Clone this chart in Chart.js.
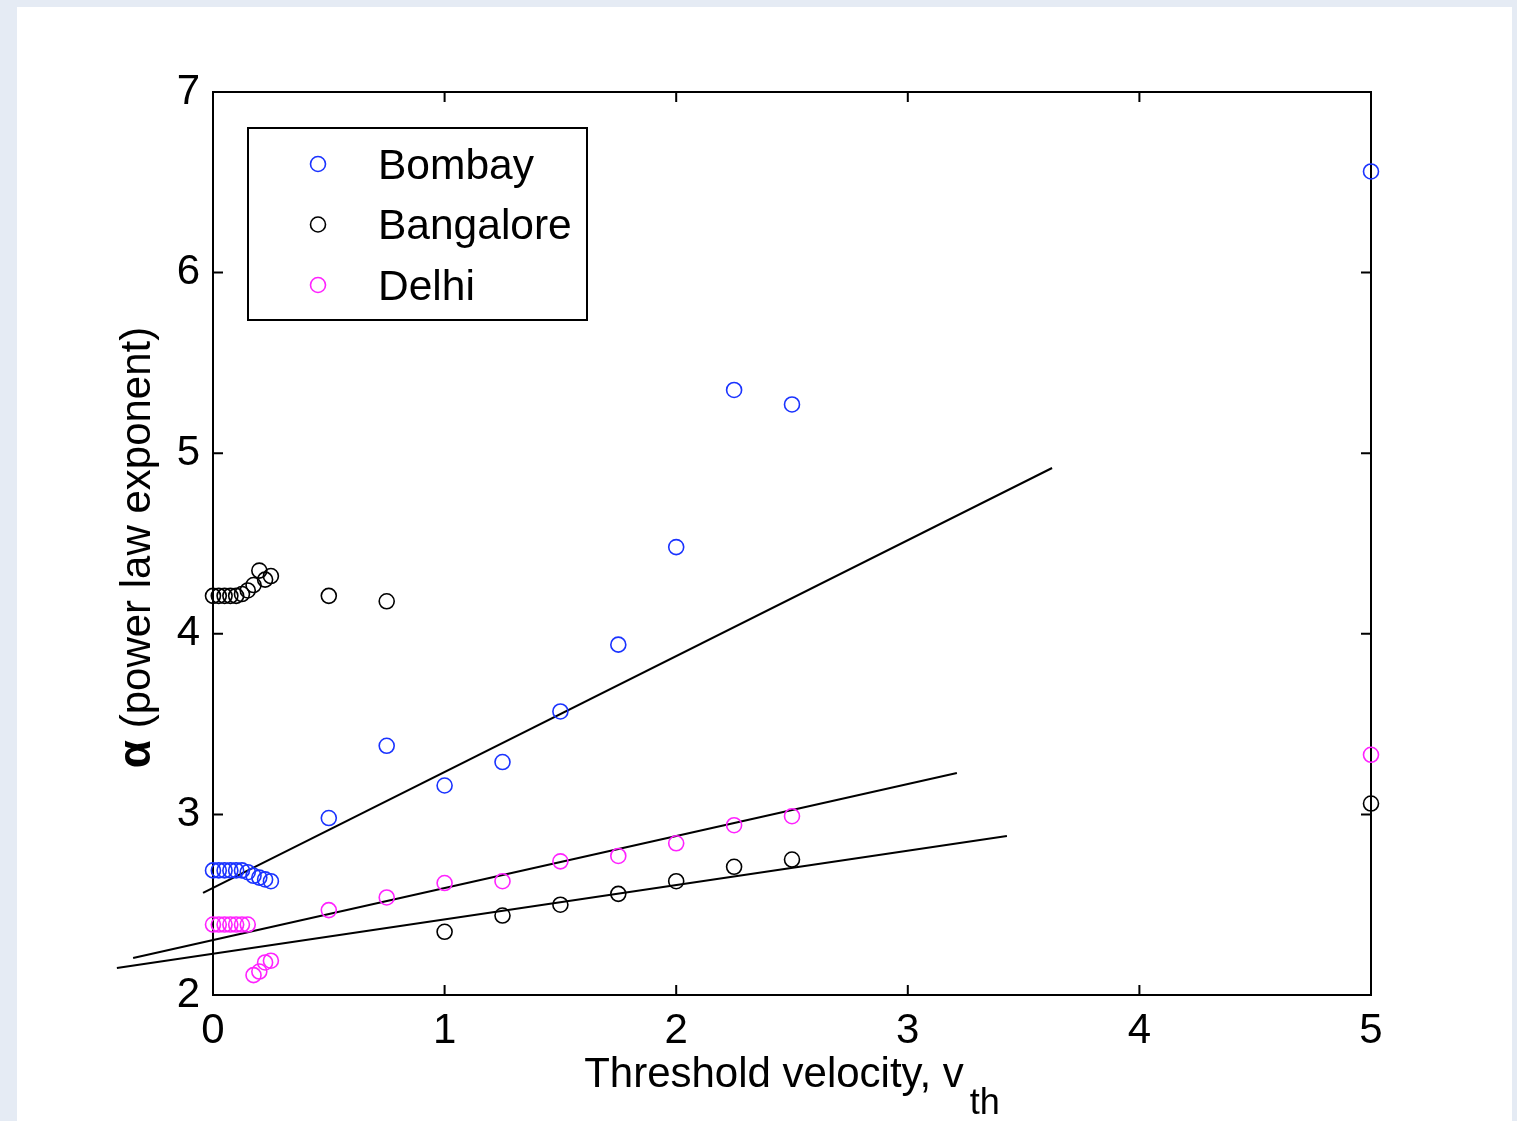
<!DOCTYPE html>
<html>
<head>
<meta charset="utf-8">
<script src="https://cdn.jsdelivr.net/npm/chart.js@4.4.0/dist/chart.umd.min.js"></script>
<style>
html, body { margin: 0; padding: 0; background: #e5ebf4; }
body { width: 1517px; height: 1121px; overflow: hidden; position: relative; }
#panel { position: absolute; left: 17px; top: 7px; width: 1495px; height: 1114px; background: #fff; }
</style>
</head>
<body>
<div id="panel"><canvas id="grafico"></canvas></div>
<script>
// datos
var velocidades = [0, 0.025, 0.05, 0.075, 0.1, 0.125, 0.15, 0.175, 0.2, 0.225, 0.25,
	0.5, 0.75, 1, 1.25, 1.5, 1.75, 2, 2.25, 2.5, 5];
var alfaBombay = [2.69, 2.69, 2.69, 2.69, 2.69, 2.69, 2.68, 2.66, 2.65, 2.64, 2.63,
	2.98, 3.38, 3.16, 3.29, 3.57, 3.94, 4.48, 5.35, 5.27, 6.56];
var alfaBangalore = [4.21, 4.21, 4.21, 4.21, 4.21, 4.22, 4.24, 4.27, 4.35, 4.30, 4.32,
	4.21, 4.18, 2.35, 2.44, 2.50, 2.56, 2.63, 2.71, 2.75, 3.06];
var alfaDelhi = [2.39, 2.39, 2.39, 2.39, 2.39, 2.39, 2.39, 2.11, 2.13, 2.18, 2.19,
	2.47, 2.54, 2.62, 2.63, 2.74, 2.77, 2.84, 2.94, 2.99, 3.33];

// rectas de ajuste (extremos)
var ajusteBombayX = [-0.043, 3.623];
var ajusteBombayY = [2.565, 4.918];
var ajusteDelhiX = [-0.345, 3.212];
var ajusteDelhiY = [2.205, 3.229];
var ajusteBangaloreX = [-0.415, 3.428];
var ajusteBangaloreY = [2.15, 2.88];

var ciudades = ['Bombay', 'Bangalore', 'Delhi'];
var colores = ['#1a33ff', '#000000', '#ff22ff'];
var ticksX = [0, 1, 2, 3, 4, 5];
var ticksY = [2, 3, 4, 5, 6, 7];
var tituloX = 'Threshold velocity, v';
var subindiceX = 'th';
var simboloY = 'α';
var tituloY = ' (power law exponent)';

var fuente = '"Liberation Sans", Arial, Helvetica, sans-serif';

//<editor-fold defaultstate="collapsed" desc="Funciones">
function puntos(xs, ys) {
	return xs.map(function (x, i) {
		return {x: x, y: ys[i]};
	});
}

function serieCiudad(i, ys) {
	return {
		type: 'scatter',
		label: ciudades[i],
		data: puntos(velocidades, ys),
		borderColor: colores[i],
		backgroundColor: 'rgba(0,0,0,0)',
		pointStyle: 'circle',
		pointRadius: 7.5,
		pointBorderWidth: 1.6,
		showLine: false,
		clip: false,
		esCiudad: true
	};
}

function serieAjuste(xs, ys) {
	return {
		type: 'line',
		label: '',
		data: puntos(xs, ys),
		borderColor: '#000',
		borderWidth: 2,
		pointRadius: 0,
		showLine: true,
		fill: false,
		clip: false
	};
}

var recuadroEjes = {
	id: 'recuadroEjes',
	beforeDatasetsDraw: function (chart) {
		var ctx = chart.ctx;
		var a = chart.chartArea;
		var sx = chart.scales.x;
		var sy = chart.scales.y;
		var largo = 10;
		ctx.save();
		ctx.strokeStyle = '#000';
		ctx.lineWidth = 2;
		ctx.strokeRect(a.left, a.top, a.right - a.left, a.bottom - a.top);
		ctx.beginPath();
		ticksX.forEach(function (v) {
			var px = sx.getPixelForValue(v);
			ctx.moveTo(px, a.bottom); ctx.lineTo(px, a.bottom - largo);
			ctx.moveTo(px, a.top); ctx.lineTo(px, a.top + largo);
		});
		ticksY.forEach(function (v) {
			var py = sy.getPixelForValue(v);
			ctx.moveTo(a.left, py); ctx.lineTo(a.left + largo, py);
			ctx.moveTo(a.right, py); ctx.lineTo(a.right - largo, py);
		});
		ctx.stroke();
		ctx.restore();
	}
};

var titulosEjes = {
	id: 'titulosEjes',
	afterDraw: function (chart) {
		var ctx = chart.ctx;
		var a = chart.chartArea;
		ctx.save();
		ctx.fillStyle = '#000';
		ctx.textBaseline = 'alphabetic';
		ctx.textAlign = 'left';
		// eje x con subindice
		ctx.font = '42px ' + fuente;
		var w1 = ctx.measureText(tituloX).width;
		ctx.font = '36px ' + fuente;
		var w2 = ctx.measureText(subindiceX).width;
		var x0 = (a.left + a.right) / 2 - (w1 + w2 + 6) / 2;
		var base = a.bottom + 92;
		ctx.font = '42px ' + fuente;
		ctx.fillText(tituloX, x0, base);
		ctx.font = '36px ' + fuente;
		ctx.fillText(subindiceX, x0 + w1 + 6, base + 27);
		// eje y rotado
		ctx.translate(a.left - 63, (a.top + a.bottom) / 2);
		ctx.rotate(-Math.PI / 2);
		ctx.font = 'bold 46px ' + fuente;
		var wa = ctx.measureText(simboloY).width;
		ctx.font = '42px ' + fuente;
		var wb = ctx.measureText(tituloY).width;
		var ini = -(wa + wb) / 2 - 4;
		ctx.font = 'bold 46px ' + fuente;
		ctx.fillText(simboloY, ini, 0);
		ctx.font = '42px ' + fuente;
		ctx.fillText(tituloY, ini + wa, 0);
		ctx.restore();
	}
};

var leyendaRecuadro = {
	id: 'leyendaRecuadro',
	afterDraw: function (chart) {
		var ctx = chart.ctx;
		var a = chart.chartArea;
		var izq = a.left + 35;
		var arriba = a.top + 36;
		ctx.save();
		ctx.fillStyle = '#fff';
		ctx.fillRect(izq, arriba, 339, 192);
		ctx.strokeStyle = '#000';
		ctx.lineWidth = 2;
		ctx.strokeRect(izq, arriba, 339, 192);
		ctx.font = '42.5px ' + fuente;
		ctx.textBaseline = 'middle';
		ctx.textAlign = 'left';
		var fila = 0;
		chart.data.datasets.forEach(function (ds) {
			if (!ds.esCiudad) return;
			var cy = arriba + 36 + fila * 60.5;
			ctx.beginPath();
			ctx.strokeStyle = ds.borderColor;
			ctx.lineWidth = 1.6;
			ctx.arc(izq + 70, cy, 7.5, 0, Math.PI * 2);
			ctx.stroke();
			ctx.fillStyle = '#000';
			ctx.fillText(ds.label, izq + 130, cy + 3);
			fila++;
		});
		ctx.restore();
	}
};
//</editor-fold>

Chart.defaults.font.family = fuente;
Chart.defaults.color = '#000';

new Chart(document.getElementById('grafico').getContext('2d'), {
	type: 'scatter',
	data: {
		datasets: [
			serieCiudad(0, alfaBombay),
			serieCiudad(1, alfaBangalore),
			serieCiudad(2, alfaDelhi),
			serieAjuste(ajusteBombayX, ajusteBombayY),
			serieAjuste(ajusteDelhiX, ajusteDelhiY),
			serieAjuste(ajusteBangaloreX, ajusteBangaloreY)
		]
	},
	options: {
		responsive: true,
		maintainAspectRatio: false,
		devicePixelRatio: 1,
		animation: false,
		layout: {padding: {left: 136, top: 85, right: 141, bottom: 66}},
		plugins: {legend: {display: false}, tooltip: {enabled: false}},
		scales: {
			x: {
				type: 'linear', min: 0, max: 5,
				grid: {display: false, drawTicks: false},
				border: {display: false},
				ticks: {stepSize: 1, padding: 11, font: {size: 42}, color: '#000'},
				afterFit: function (s) { s.height = 60; }
			},
			y: {
				type: 'linear', min: 2, max: 7,
				grid: {display: false, drawTicks: false},
				border: {display: false},
				ticks: {stepSize: 1, padding: 13, font: {size: 42}, color: '#000'},
				afterFit: function (s) { s.width = 60; }
			}
		}
	},
	plugins: [recuadroEjes, titulosEjes, leyendaRecuadro]
});
</script>
</body>
</html>
